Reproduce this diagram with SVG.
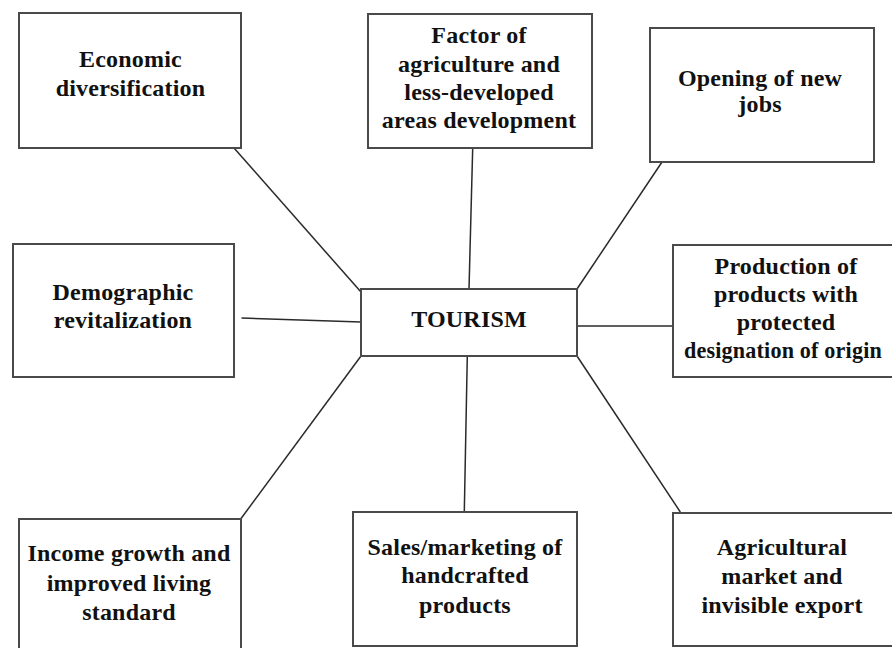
<svg xmlns="http://www.w3.org/2000/svg" width="892" height="648" viewBox="0 0 892 648">
  <style>
    .box { fill: #ffffff; stroke: #4a4a4a; stroke-width: 2; }
    .lbl { font-family: "Liberation Serif", "Times New Roman", serif; font-weight: bold; font-size: 24px; letter-spacing: 0.2px; fill: #111111; text-anchor: middle; }
    .conn line { stroke: #2a2a2a; stroke-width: 1.5; }
  </style>
  <rect width="892" height="648" fill="#ffffff"/>
  <g id="connectors" class="conn">
    <line x1="234" y1="148" x2="361" y2="292"/>
    <line x1="472.7" y1="148" x2="469" y2="289"/>
    <line x1="662" y1="162" x2="577" y2="289"/>
    <line x1="241.5" y1="318" x2="361" y2="322"/>
    <line x1="577" y1="326" x2="673" y2="326"/>
    <line x1="361" y1="356" x2="240.7" y2="519"/>
    <line x1="467.3" y1="356" x2="464.3" y2="512"/>
    <line x1="577" y1="356" x2="680.3" y2="512"/>
  </g>
  <g id="economic">
    <rect class="box" x="19" y="13" width="222" height="135"/>
    <text class="lbl" x="130.5" y="67">Economic</text>
    <text class="lbl" x="130.5" y="96">diversification</text>
  </g>
  <g id="factor">
    <rect class="box" x="368" y="14" width="224" height="134"/>
    <text class="lbl" x="479" y="43">Factor of</text>
    <text class="lbl" x="479" y="72">agriculture and</text>
    <text class="lbl" x="479" y="100">less-developed</text>
    <text class="lbl" x="479" y="128">areas development</text>
  </g>
  <g id="jobs">
    <rect class="box" x="650" y="28" width="224" height="134"/>
    <text class="lbl" x="760" y="86">Opening of new</text>
    <text class="lbl" x="760" y="112">jobs</text>
  </g>
  <g id="demographic">
    <rect class="box" x="13" y="244" width="221" height="133"/>
    <text class="lbl" x="123" y="300">Demographic</text>
    <text class="lbl" x="123" y="328">revitalization</text>
  </g>
  <g id="tourism">
    <rect class="box" x="361" y="289" width="216" height="67"/>
    <text class="lbl" x="469" y="327">TOURISM</text>
  </g>
  <g id="production">
    <rect class="box" x="673" y="245" width="228" height="132"/>
    <text class="lbl" x="786" y="274">Production of</text>
    <text class="lbl" x="786" y="302">products with</text>
    <text class="lbl" x="786" y="330">protected</text>
    <text class="lbl" x="783" y="358" textLength="198" lengthAdjust="spacingAndGlyphs">designation of origin</text>
  </g>
  <g id="income">
    <rect class="box" x="19" y="519" width="222" height="135"/>
    <text class="lbl" x="129" y="561">Income growth and</text>
    <text class="lbl" x="129" y="591">improved living</text>
    <text class="lbl" x="129" y="620">standard</text>
  </g>
  <g id="sales">
    <rect class="box" x="353" y="512" width="224" height="134"/>
    <text class="lbl" x="465" y="555">Sales/marketing of</text>
    <text class="lbl" x="465" y="583">handcrafted</text>
    <text class="lbl" x="465" y="613">products</text>
  </g>
  <g id="agricultural">
    <rect class="box" x="673" y="513" width="220" height="133"/>
    <text class="lbl" x="782" y="555">Agricultural</text>
    <text class="lbl" x="782" y="584">market and</text>
    <text class="lbl" x="782" y="613">invisible export</text>
  </g>
</svg>
